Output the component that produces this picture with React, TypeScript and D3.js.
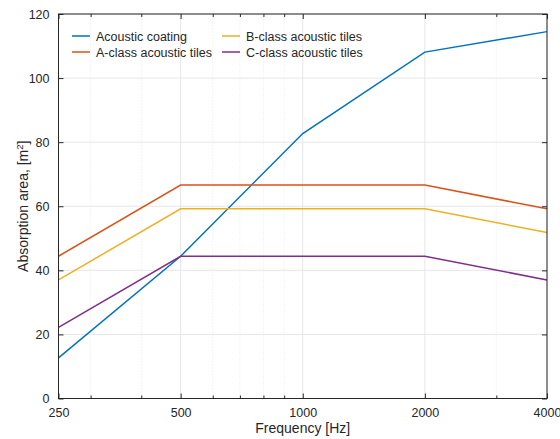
import React, { useEffect, useRef } from "react";
import * as d3 from "d3";

const frequencies = [250, 500, 1000, 2000, 4000];
const coating = [12.7, 44.4, 82.7, 108.1, 114.5];
const aClass = [44.4, 66.6, 66.6, 66.6, 59.2];
const bClass = [37.0, 59.2, 59.2, 59.2, 51.8];
const cClass = [22.2, 44.4, 44.4, 44.4, 37.0];
const seriesNames = [
  "Acoustic coating",
  "A-class acoustic tiles",
  "B-class acoustic tiles",
  "C-class acoustic tiles",
];
const colors = ["#0072BD", "#D95319", "#EDB120", "#7E2F8E"];
const xTicks = [250, 500, 1000, 2000, 4000];
const xMinor = [300, 400, 600, 700, 800, 900, 3000];
const yTicks = [0, 20, 40, 60, 80, 100, 120];

const App = () => {
  const svgRef = useRef<SVGSVGElement>(null);

  useEffect(() => {
    const svg = d3.select(svgRef.current);
    svg.selectAll("*").remove();
    const width = 560;
    const height = 439;
    const margin = { top: 14, right: 13, bottom: 40.5, left: 58.5 };
    const font = "'Liberation Sans', Arial, Helvetica, sans-serif";
    const axisColor = "#262626";

    const x = d3.scaleLog()
      .domain([250, 4000])
      .range([margin.left, width - margin.right]);
    const y = d3.scaleLinear()
      .domain([0, 120])
      .range([height - margin.bottom, margin.top]);

    const g = svg.append("g");

    // grid
    g.selectAll(".minor")
      .data(xMinor)
      .enter()
      .append("line")
      .attr("x1", d => x(d))
      .attr("x2", d => x(d))
      .attr("y1", y(0))
      .attr("y2", y(120))
      .attr("stroke", "#dcdcdc")
      .attr("stroke-width", 0.6)
      .attr("stroke-dasharray", "1,2");

    g.selectAll(".xgrid")
      .data(xTicks)
      .enter()
      .append("line")
      .attr("x1", d => x(d))
      .attr("x2", d => x(d))
      .attr("y1", y(0))
      .attr("y2", y(120))
      .attr("stroke", "#e6e6e6")
      .attr("stroke-width", 1);

    g.selectAll(".ygrid")
      .data(yTicks)
      .enter()
      .append("line")
      .attr("x1", x(250))
      .attr("x2", x(4000))
      .attr("y1", d => y(d))
      .attr("y2", d => y(d))
      .attr("stroke", "#e6e6e6")
      .attr("stroke-width", 1);

    // lines
    const allSeries = [coating, aClass, bClass, cClass];
    const line = d3.line<number>()
      .x((_, i) => x(frequencies[i]))
      .y(d => y(d));

    allSeries.forEach((s, i) => {
      g.append("path")
        .datum(s)
        .attr("d", line)
        .attr("fill", "none")
        .attr("stroke", colors[i])
        .attr("stroke-width", 1.5);
    });

    // axes box
    g.append("rect")
      .attr("x", x(250))
      .attr("y", y(120))
      .attr("width", x(4000) - x(250))
      .attr("height", y(0) - y(120))
      .attr("fill", "none")
      .attr("stroke", axisColor)
      .attr("stroke-width", 1);

    const bottom = g.append("g")
      .attr("transform", `translate(0,${y(0)})`)
      .call(d3.axisBottom(x).tickValues(xTicks).tickFormat(d3.format("d")).tickSize(-5).tickPadding(10));
    const bottomMinor = g.append("g")
      .attr("transform", `translate(0,${y(0)})`)
      .call(d3.axisBottom(x).tickValues(xMinor).tickFormat(() => "").tickSize(-3));
    const top = g.append("g")
      .attr("transform", `translate(0,${y(120)})`)
      .call(d3.axisTop(x).tickValues(xTicks).tickFormat(() => "").tickSize(-5));
    const topMinor = g.append("g")
      .attr("transform", `translate(0,${y(120)})`)
      .call(d3.axisTop(x).tickValues(xMinor).tickFormat(() => "").tickSize(-3));
    const left = g.append("g")
      .attr("transform", `translate(${x(250)},0)`)
      .call(d3.axisLeft(y).tickValues(yTicks).tickSize(-5).tickPadding(9));
    const right = g.append("g")
      .attr("transform", `translate(${x(4000)},0)`)
      .call(d3.axisRight(y).tickValues(yTicks).tickFormat(() => "").tickSize(-5));

    [bottom, bottomMinor, top, topMinor, left, right].forEach(a => {
      a.select(".domain").remove();
      a.selectAll("line").attr("stroke", axisColor);
      a.selectAll("text")
        .attr("fill", axisColor)
        .attr("font-family", font)
        .attr("font-size", 12.5);
    });

    // labels
    svg.append("text")
      .attr("x", (x(250) + x(4000)) / 2)
      .attr("y", 433)
      .attr("text-anchor", "middle")
      .attr("fill", axisColor)
      .attr("font-family", font)
      .attr("font-size", 14)
      .text("Frequency [Hz]");

    const yl = svg.append("text")
      .attr("transform", `translate(28,${(y(0) + y(120)) / 2}) rotate(-90)`)
      .attr("text-anchor", "middle")
      .attr("fill", axisColor)
      .attr("font-family", font)
      .attr("font-size", 14);
    yl.append("tspan").text("Absorption area, [m");
    yl.append("tspan").attr("font-size", 9.5).attr("dy", -5.5).text("2");
    yl.append("tspan").attr("dy", 5.5).text("]");

    // legend
    const legendPos = [
      { lx: 72, ly: 36 },
      { lx: 72, ly: 52 },
      { lx: 222, ly: 36 },
      { lx: 222, ly: 52 },
    ];
    seriesNames.forEach((name, i) => {
      const p = legendPos[i];
      svg.append("line")
        .attr("x1", p.lx)
        .attr("x2", p.lx + 18)
        .attr("y1", p.ly)
        .attr("y2", p.ly)
        .attr("stroke", colors[i])
        .attr("stroke-width", 1.5);
      svg.append("text")
        .attr("x", p.lx + 24)
        .attr("y", p.ly + 4.5)
        .attr("fill", axisColor)
        .attr("font-family", font)
        .attr("font-size", 12.5)
        .text(name);
    });
  }, []);

  return (
    <svg
      ref={svgRef}
      width={560}
      height={439}
      style={{ position: "absolute", left: 0, top: 0, background: "#fff" }}
    ></svg>
  );
};

export default App;
